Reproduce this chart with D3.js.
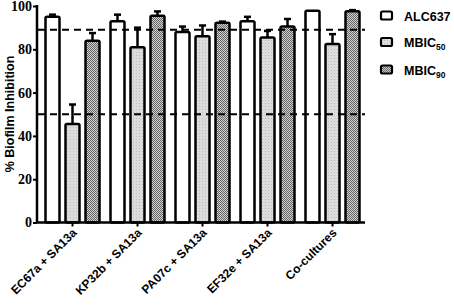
<!DOCTYPE html>
<html>
<head>
<meta charset="utf-8">
<script src="https://cdn.jsdelivr.net/npm/d3@7"></script>
<style>
  body { margin: 0; background: #fff; }
  svg { display: block; }
</style>
</head>
<body>
<svg id="svg" width="454" height="305"></svg>
<script>
const groups = ['EC67a + SA13a', 'KP32b + SA13a', 'PA07c + SA13a', 'EF32e + SA13a', 'Co-cultures']
const series = ['ALC637', 'MBIC50', 'MBIC90']
const alc637 = [95, 93, 88, 93, 97.8]
const alc637Err = [1, 3, 2.5, 2, 0]
const mbic50 = [45.5, 81, 86, 85.5, 82.5]
const mbic50Err = [9, 9, 5, 3, 4.5]
const mbic90 = [84, 95.5, 92.3, 90.5, 97.6]
const mbic90Err = [3.5, 2, 0.5, 3.5, 0.5]
const yTicks = [0, 20, 40, 60, 80, 100]
const refLines = [89, 50]

const svg = d3.select('#svg')
const defs = svg.append('defs')

// light stipple for MBIC50
const p1 = defs.append('pattern').attr('id', 'dots').attr('width', 3).attr('height', 3)
  .attr('patternUnits', 'userSpaceOnUse')
p1.append('rect').attr('width', 3).attr('height', 3).attr('fill', '#dcdcdc')
p1.append('rect').attr('x', 1).attr('y', 1).attr('width', 1).attr('height', 1).attr('fill', '#bdbdbd')

// checker for MBIC90
const p2 = defs.append('pattern').attr('id', 'checker').attr('width', 2).attr('height', 2)
  .attr('patternUnits', 'userSpaceOnUse')
p2.append('rect').attr('width', 2).attr('height', 2).attr('fill', '#d0d0d0')
p2.append('rect').attr('width', 1).attr('height', 1).attr('fill', '#666')
p2.append('rect').attr('x', 1).attr('y', 1).attr('width', 1).attr('height', 1).attr('fill', '#666')

const fills = ['#ffffff', 'url(#dots)', 'url(#checker)']

const x = d3.scaleBand().domain(groups).range([40, 365]).padding(0)
const sub = d3.scaleBand().domain(series).range([-27, 27]).paddingInner(0.3)
const y = d3.scaleLinear().domain([0, 100]).range([222.5, 6])

const rows = groups.map((g, i) => ({
  g,
  bars: [
    { s: series[0], v: alc637[i], e: alc637Err[i] },
    { s: series[1], v: mbic50[i], e: mbic50Err[i] },
    { s: series[2], v: mbic90[i], e: mbic90Err[i] }
  ]
}))

const xc = (g) => x(g) + x.bandwidth() / 2

// error bars (drawn first so bar outline sits on top)
rows.forEach((r) => {
  r.bars.forEach((b) => {
    if (b.e <= 0) return
    const cx = xc(r.g) + sub(b.s) + sub.bandwidth() / 2
    svg.append('line').attr('x1', cx).attr('x2', cx)
      .attr('y1', y(b.v)).attr('y2', y(b.v + b.e))
      .attr('stroke', '#000').attr('stroke-width', 2.5)
    svg.append('line').attr('x1', cx - 3.5).attr('x2', cx + 3.5)
      .attr('y1', y(b.v + b.e)).attr('y2', y(b.v + b.e))
      .attr('stroke', '#000').attr('stroke-width', 2.5)
  })
})

// bars
rows.forEach((r) => {
  svg.append('g').selectAll('rect').data(r.bars).join('rect')
    .attr('x', (d) => xc(r.g) + sub(d.s))
    .attr('y', (d) => y(d.v))
    .attr('width', sub.bandwidth())
    .attr('height', (d) => y(0) - y(d.v))
    .attr('rx', 1.5)
    .attr('fill', (d, i) => fills[i])
    .attr('stroke', '#000')
    .attr('stroke-width', 2.5)
})

// dashed reference lines
svg.selectAll('.ref').data(refLines).join('line')
  .attr('x1', 38).attr('x2', 365)
  .attr('y1', (d) => y(d)).attr('y2', (d) => y(d))
  .attr('stroke', '#000').attr('stroke-width', 2)
  .attr('stroke-dasharray', '7,5')

// y axis
const yAxis = svg.append('g').attr('transform', 'translate(37,0)')
  .call(d3.axisLeft(y).tickValues(yTicks).tickSize(4).tickPadding(1))
yAxis.select('.domain').attr('stroke-width', 2.5).attr('d', `M0,${y(100) - 1}V${y(0)}`)
yAxis.selectAll('.tick line').attr('stroke-width', 2)
yAxis.selectAll('.tick text')
  .style('font-family', '"Liberation Serif", "Times New Roman", serif')
  .style('font-weight', 'bold').style('font-size', '14px').attr('fill', '#000')

// x axis
const xAxis = svg.append('g').attr('transform', `translate(0,${y(0)})`)
  .call(d3.axisBottom(x).tickSize(4).tickFormat(''))
xAxis.select('.domain').attr('stroke-width', 2.5).attr('d', 'M36,0H365')
xAxis.selectAll('.tick line').attr('stroke-width', 2)

svg.append('g').selectAll('text').data(groups).join('text')
  .attr('transform', (d) => `translate(${xc(d) + 5},${y(0) + 11}) rotate(-45)`)
  .attr('text-anchor', 'end')
  .style('font-family', '"Liberation Sans", Arial, sans-serif')
  .style('font-weight', 'bold').style('font-size', '12px')
  .text((d) => d)

// y label
svg.append('text')
  .attr('transform', 'translate(14,114) rotate(-90)')
  .attr('text-anchor', 'middle')
  .style('font-family', '"Liberation Sans", Arial, sans-serif')
  .style('font-weight', 'bold').style('font-size', '12.5px')
  .text('% Biofilm Inhibition')

// legend
const legend = svg.append('g').attr('transform', 'translate(380,0)')
const legendY = [16, 42.5, 70]
series.forEach((s, i) => {
  legend.append('rect').attr('x', 1).attr('y', legendY[i] - 4.5)
    .attr('width', 11).attr('height', 8).attr('rx', 1.5)
    .attr('fill', fills[i]).attr('stroke', '#000').attr('stroke-width', 2.2)
  const t = legend.append('text').attr('x', 24).attr('y', legendY[i] + 4.5)
    .style('font-family', '"Liberation Sans", Arial, sans-serif')
    .style('font-weight', 'bold').style('font-size', '12.5px')
  if (i === 0) {
    t.text(s)
  } else {
    t.append('tspan').text('MBIC')
    t.append('tspan').style('font-size', '8.5px').attr('dy', 3).text(s.slice(4))
  }
})
</script>
</body>
</html>
